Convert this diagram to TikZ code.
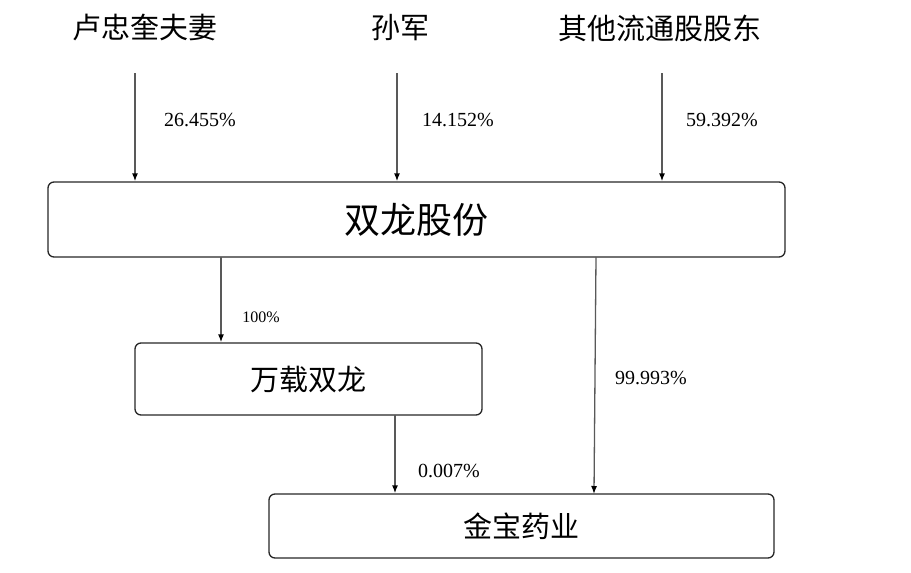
\documentclass[tikz,border=0pt]{standalone}
\usepackage{fontspec}
\setmainfont{Liberation Serif}
\newfontfamily\cjk{Noto Sans CJK SC}
\usetikzlibrary{arrows.meta}
\begin{document}
\begin{tikzpicture}[x=1pt,y=-1pt,
  box/.style={draw=black!85,line width=1.3pt,rounded corners=6pt,inner sep=0pt},
  arr/.style={draw=black!65,line width=1.3pt,-{Latex[length=8pt,width=6pt,black]}},
  toplab/.style={font=\cjk\fontsize{29}{32}\selectfont,anchor=center},
  pct/.style={font=\fontsize{20}{23}\selectfont,anchor=center}]
\useasboundingbox (0,0) rectangle (911,573);
\node[toplab] (lu) at (145,28) {卢忠奎夫妻};
\node[toplab] (sun) at (400,28) {孙军};
\node[toplab] (qt) at (660,28) {其他流通股股东};
\node[box,minimum width=737pt,minimum height=75pt] (sl) at (416.5,219.5) {};
\node[font=\cjk\fontsize{36}{40}\selectfont] at (sl.center) {双龙股份};
\node[box,minimum width=347pt,minimum height=72pt] (wz) at (308.5,379) {};
\node[font=\cjk\fontsize{29}{32}\selectfont] at (wz.center) {万载双龙};
\node[box,minimum width=505pt,minimum height=64pt] (jb) at (521.5,526) {};
\node[font=\cjk\fontsize{29}{32}\selectfont] at (jb.center) {金宝药业};
\coordinate (a1) at (135,73);
\coordinate (a2) at (397,73);
\coordinate (a3) at (662,73);
\draw[arr] (a1) -- (a1 |- sl.north);
\draw[arr] (a2) -- (a2 |- sl.north);
\draw[arr] (a3) -- (a3 |- sl.north);
\node[pct] at (200,120) {26.455\%};
\node[pct] at (458,120) {14.152\%};
\node[pct] at (722,120) {59.392\%};
\coordinate (b1) at (221,257);
\draw[arr] (b1) -- (b1 |- wz.north);
\node[font=\fontsize{16}{18}\selectfont] at (261,317) {100\%};
\coordinate (b2) at (596,257);
\coordinate (b2e) at (594,494);
\draw[arr] (b2) -- (b2e);
\node[pct] at (651,378) {99.993\%};
\coordinate (c1) at (395,415);
\draw[arr] (c1) -- (c1 |- jb.north);
\node[pct] at (449,471) {0.007\%};
\end{tikzpicture}
\end{document}
